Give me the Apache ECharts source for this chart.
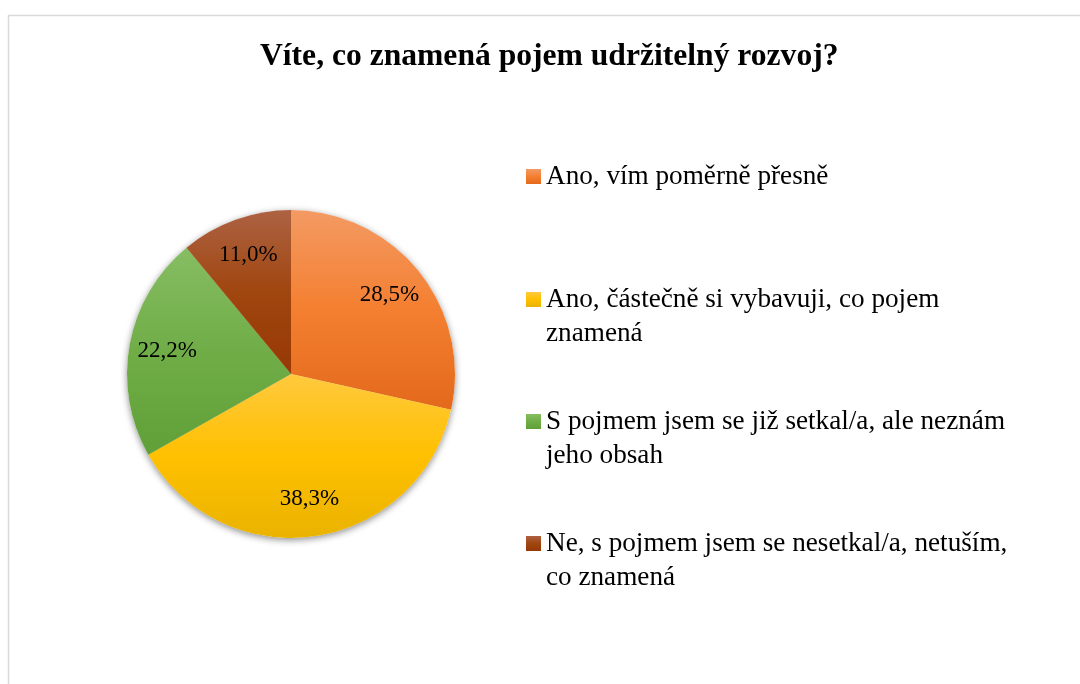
<!DOCTYPE html>
<html>
<head>
<meta charset="utf-8">
<script src="https://cdn.jsdelivr.net/npm/echarts@6/dist/echarts.min.js"></script>
<style>
  html, body { margin: 0; padding: 0; background: #ffffff; }
  #chart { width: 1080px; height: 684px; }
</style>
</head>
<body>
<div id="chart"></div>
<script>
// ---- data ----
const titleText = 'Víte, co znamená pojem udržitelný rozvoj?';
const categories = [
  'Ano, vím poměrně přesně',
  'Ano, částečně si vybavuji, co pojem znamená',
  'S pojmem jsem se již setkal/a, ale neznám jeho obsah',
  'Ne, s pojmem jsem se nesetkal/a, netuším, co znamená'
];
const values = [28.5, 38.3, 22.2, 11.0];

// ---- styles ----
const gradStops = [
  ['#F39A63', '#F47F30', '#E3691B'],
  ['#FFC93E', '#FFC000', '#EAB300'],
  ['#86BD63', '#70AD47', '#60A038'],
  ['#AD6243', '#A0460F', '#973805']
];
function grad(stops) {
  return new echarts.graphic.LinearGradient(0, 0, 0, 1, [
    { offset: 0, color: stops[0] },
    { offset: 0.5, color: stops[1] },
    { offset: 1, color: stops[2] }
  ]);
}
const serif = 'Liberation Serif';
const center = [291, 374];
const R = 164;

const mainData = categories.map((c, i) => ({
  name: c, value: values[i], itemStyle: { color: grad(gradStops[i]) }
}));
const shadowData = categories.map((c, i) => ({ name: c, value: values[i] }));
const labelData = categories.map((c, i) => ({ name: c, value: values[i] }));

const legendTops = [159.5, 248.5, 370.5, 492.5];
const legends = categories.map((c, i) => ({
  data: [c],
  left: 526,
  top: legendTops[i],
  padding: 0,
  orient: 'vertical',
  icon: 'rect',
  itemWidth: 15,
  itemHeight: 15,
  selectedMode: false,
  formatter: name => (i === 0 ? name : '\n' + name),
  textStyle: {
    fontFamily: serif,
    fontSize: 27.2,
    lineHeight: 34,
    color: '#000000',
    width: 505,
    overflow: 'break'
  }
}));

const chart = echarts.init(document.getElementById('chart'), null, { renderer: 'canvas' });
chart.setOption({
  backgroundColor: '#ffffff',
  animation: false,
  title: {
    text: titleText,
    left: 260,
    top: 41,
    padding: 0,
    textStyle: { fontFamily: serif, fontSize: 31.6, fontWeight: 'bold', color: '#000000' }
  },
  legend: legends,
  graphic: [{
    type: 'rect',
    shape: { x: 8.5, y: 15.5, width: 1200, height: 800 },
    style: { fill: 'none', stroke: '#d9d9d9', lineWidth: 1.5 },
    silent: true,
    z: -10
  }],
  series: [
    {
      type: 'pie',
      center: center,
      radius: [0, R],
      startAngle: 90,
      clockwise: true,
      z: 3,
      silent: true,
      data: mainData,
      label: { show: false },
      labelLine: { show: false },
      itemStyle: { borderWidth: 0 }
    },
    {
      type: 'pie',
      center: center,
      radius: [0, R],
      startAngle: 90,
      z: 1,
      silent: true,
      data: shadowData,
      label: { show: false },
      labelLine: { show: false },
      itemStyle: {
        color: '#ffffff',
        shadowBlur: 7,
        shadowColor: 'rgba(0,0,0,0.45)',
        shadowOffsetX: 0,
        shadowOffsetY: 2
      }
    },
    {
      type: 'pie',
      center: center,
      radius: [R / 2, R],
      startAngle: 90,
      z: 5,
      silent: true,
      data: labelData,
      itemStyle: { color: 'rgba(0,0,0,0)' },
      labelLine: { show: false },
      avoidLabelOverlap: false,
      label: {
        show: true,
        position: 'inside',
        fontFamily: serif,
        fontSize: 23,
        color: '#000000',
        formatter: p => p.value.toFixed(1).replace('.', ',') + '%'
      }
    }
  ]
});
</script>
</body>
</html>
